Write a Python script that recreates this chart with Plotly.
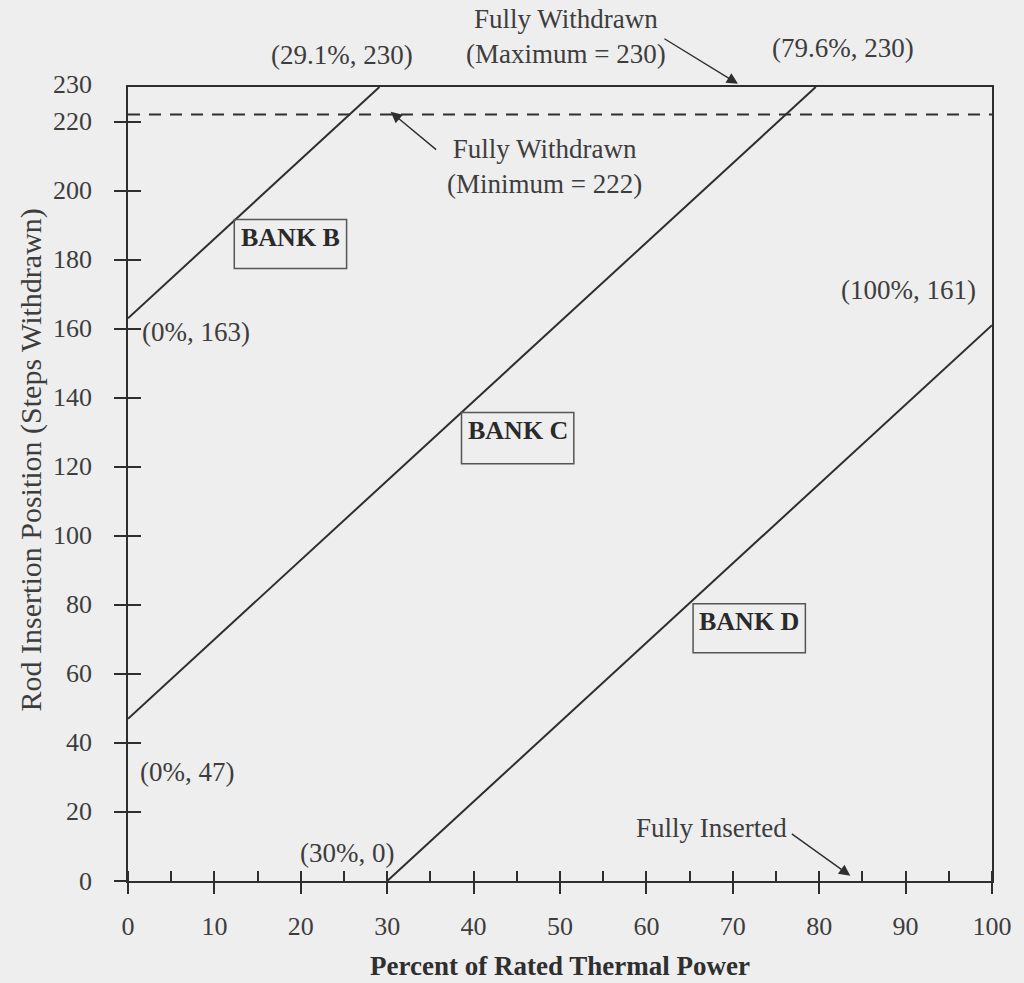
import plotly.graph_objects as go

# ---- data ----
bank_names = ["BANK B", "BANK C", "BANK D"]
bank_x = [[0, 29.1], [0, 79.6], [30, 100]]
bank_y = [[163, 230], [47, 230], [0, 161]]
min_withdrawn_x = [0, 100]
min_withdrawn_y = [222, 222]
x_tick_vals = [0, 10, 20, 30, 40, 50, 60, 70, 80, 90, 100]
y_tick_vals = [0, 20, 40, 60, 80, 100, 120, 140, 160, 180, 200, 220]
y_label_vals = [0, 20, 40, 60, 80, 100, 120, 140, 160, 180, 200, 220, 230]
point_labels = ["(29.1%, 230)", "(79.6%, 230)", "(0%, 163)", "(0%, 47)", "(100%, 161)", "(30%, 0)"]

LINE = "#2e2e2e"
TXT = "#3d3d3d"
BG = "#eeeeee"
FONT = "Liberation Serif"

fig = go.Figure()
for name, xs, ys in zip(bank_names, bank_x, bank_y):
    fig.add_trace(go.Scatter(x=xs, y=ys, mode="lines", name=name,
                             line=dict(color=LINE, width=2), cliponaxis=False,
                             showlegend=False, hoverinfo="skip"))
fig.add_trace(go.Scatter(x=min_withdrawn_x, y=min_withdrawn_y, mode="lines",
                         line=dict(color=LINE, width=2, dash="12px,9px"),
                         showlegend=False, hoverinfo="skip"))
# dummy trace for overlay axes (inside tick halves)
fig.add_trace(go.Scatter(x=[0], y=[0], xaxis="x2", yaxis="y2", mode="markers",
                         marker=dict(opacity=0), showlegend=False, hoverinfo="skip"))

tickfont = dict(family=FONT, size=26, color=TXT)
fig.update_layout(
    width=1024, height=983,
    margin=dict(l=128, r=27, t=87, b=102),
    paper_bgcolor=BG, plot_bgcolor=BG,
    xaxis=dict(range=[0, 100], showgrid=False, zeroline=False,
               showline=True, linecolor=LINE, linewidth=2, mirror=True,
               tickmode="array", tickvals=x_tick_vals,
               ticks="outside", ticklen=11, tickwidth=2, tickcolor=LINE,
               minor=dict(ticks="inside", ticklen=10, tickwidth=1.5, tickcolor=LINE,
                          dtick=5, tick0=0, showgrid=False),
               tickfont=tickfont, ticklabelstandoff=10),
    yaxis=dict(range=[0, 230], showgrid=False, zeroline=False,
               showline=True, linecolor=LINE, linewidth=2, mirror=True,
               tickmode="array", tickvals=y_tick_vals, showticklabels=False,
               ticks="outside", ticklen=12, tickwidth=2, tickcolor=LINE),
    xaxis2=dict(range=[0, 100], overlaying="x", showgrid=False, zeroline=False,
                showline=False, tickmode="array", tickvals=x_tick_vals,
                ticks="inside", ticklen=9, tickwidth=2, tickcolor=LINE,
                showticklabels=False),
    yaxis2=dict(range=[0, 230], overlaying="y", showgrid=False, zeroline=False,
                showline=False, tickmode="array", tickvals=y_tick_vals,
                ticks="inside", ticklen=13, tickwidth=2, tickcolor=LINE,
                showticklabels=False),
)

afont = dict(family=FONT, size=27, color=TXT)
bfont = dict(family=FONT, size=26, color="#2a2a2a")

ann = []
# y tick labels (incl. top 230)
for v in y_label_vals:
    ann.append(dict(x=0, y=v, xref="paper", yref="y", text=str(v), showarrow=False,
                    xanchor="right", yanchor="middle", xshift=-34,
                    yshift=3 if v == 230 else 0, font=tickfont))
# axis titles
ann.append(dict(x=0.5, y=-0.107, xref="paper", yref="paper",
                text="<b>Percent of Rated Thermal Power</b>", showarrow=False,
                xanchor="center", yanchor="middle",
                font=dict(family=FONT, size=27, color="#2f2f2f")))
ann.append(dict(x=-0.112, y=0.53, xref="paper", yref="paper",
                text="Rod Insertion Position (Steps Withdrawn)", showarrow=False,
                textangle=-90, xanchor="center", yanchor="middle",
                font=dict(family=FONT, size=30, color=TXT)))
# point labels above the plot (paper y)
ann.append(dict(x=24.8, y=1.040, yref="paper", text=point_labels[0], showarrow=False,
                xanchor="center", yanchor="middle", font=afont))
ann.append(dict(x=82.8, y=1.049, yref="paper", text=point_labels[1], showarrow=False,
                xanchor="center", yanchor="middle", font=afont))
# point labels inside
ann.append(dict(x=1.4, y=159, text=point_labels[2], showarrow=False, xanchor="left",
                yanchor="middle", font=afont))
ann.append(dict(x=1.2, y=31.6, text=point_labels[3], showarrow=False, xanchor="left",
                yanchor="middle", font=afont))
ann.append(dict(x=98.4, y=171.3, text=point_labels[4], showarrow=False, xanchor="right",
                yanchor="middle", font=afont))
ann.append(dict(x=25.3, y=8.1, text=point_labels[5], showarrow=False,
                xanchor="center", yanchor="middle", font=afont))
# explanatory labels
ann.append(dict(x=50.7, y=1.063, yref="paper", text="Fully Withdrawn<br>(Maximum = 230)",
                showarrow=False, xanchor="center", yanchor="middle", font=afont))
ann.append(dict(x=48.2, y=207, text="Fully Withdrawn<br>(Minimum = 222)", showarrow=False,
                xanchor="center", yanchor="middle", font=afont))
ann.append(dict(x=67.5, y=15.4, text="Fully Inserted", showarrow=False,
                xanchor="center", yanchor="middle", font=afont))
# arrows
arrow_style = dict(showarrow=True, text="", arrowhead=2, arrowsize=1.6, arrowwidth=1.4,
                   arrowcolor=LINE, standoff=0)
ann.append(dict(x=70.6, y=1.004, yref="paper", ax=-75, ay=-46, **arrow_style))
ann.append(dict(x=30.4, y=222.8, ax=47, ay=39, **arrow_style))
ann.append(dict(x=83.6, y=1.5, ax=-60, ay=-43, **arrow_style))
# bank labels
bank_label_pos = [(18.8, 186.4), (45.1, 130.4), (71.9, 75.1)]
for name, (bx, by) in zip(bank_names, bank_label_pos):
    ann.append(dict(x=bx, y=by, text="<b>" + name + "</b>", showarrow=False,
                    xanchor="center", yanchor="middle", font=bfont))
fig.update_layout(annotations=ann)

# label boxes
boxes = [(12.3, 177.4, 25.3, 191.6), (38.6, 120.9, 51.6, 135.7), (65.4, 66.1, 78.4, 80.3)]
for x0, y0, x1, y1 in boxes:
    fig.add_shape(type="rect", x0=x0, y0=y0, x1=x1, y1=y1, xref="x", yref="y",
                  line=dict(color="#555555", width=1.5), fillcolor="rgba(0,0,0,0)")

fig.write_html("out.html", config={"displayModeBar": False},
               post_script="document.body.style.margin='0';document.body.style.overflow='hidden';")
